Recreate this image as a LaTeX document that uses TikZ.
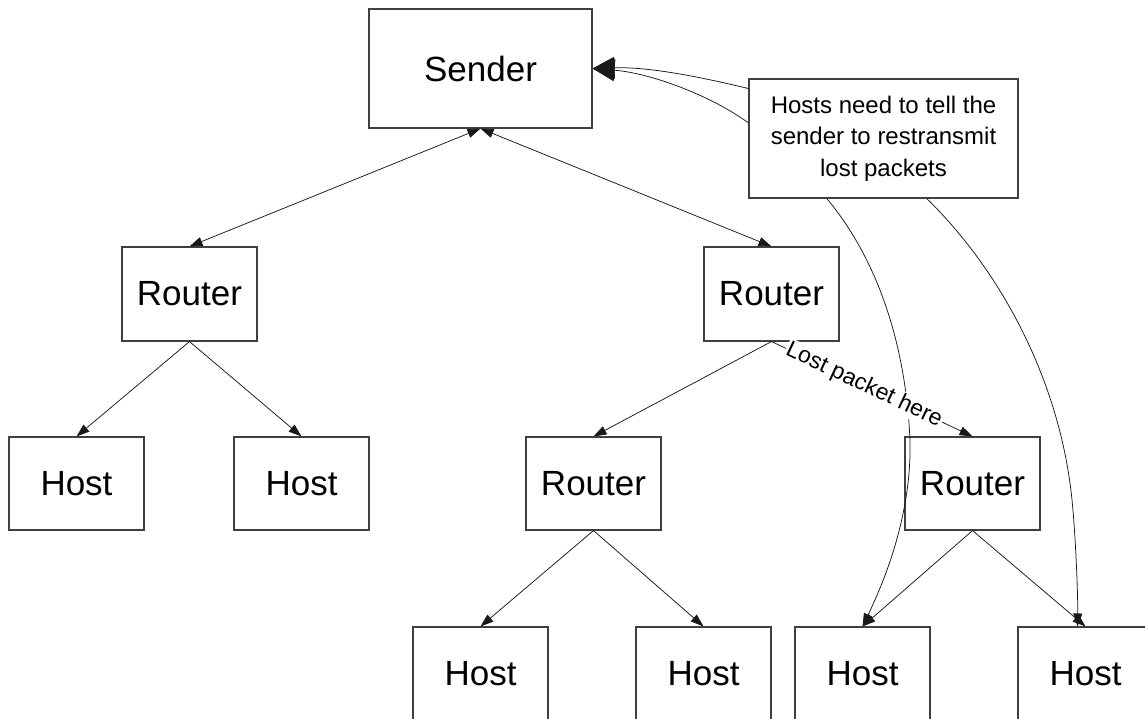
\documentclass[tikz,border=0pt]{standalone}
\usepackage{fontspec}
\setmainfont{Liberation Sans}
\usetikzlibrary{arrows.meta,calc}
\begin{document}
\begin{tikzpicture}[x=1pt,y=-1pt,
  box/.style={draw=black!75, line width=1.1pt, inner sep=0pt, minimum width=135pt, minimum height=93pt, font=\fontsize{35}{42}\selectfont},
  link/.style={line width=0.75pt, draw=black!90, -{Triangle[length=13pt,width=9pt]}},
  both/.style={line width=0.75pt, draw=black!90, {Triangle[length=13pt,width=9pt]}-{Triangle[length=13pt,width=9pt]}},
  big/.style={line width=0.75pt, draw=black!90, -{Triangle[length=22pt,width=22pt]}},
  lbl/.style={fill=white, inner sep=1pt, font=\fontsize{23}{27}\selectfont}]
\useasboundingbox (0,0) rectangle (1145,719);
\clip (0,0) rectangle (1145,719);
% boxes
\node[box, minimum width=223pt, minimum height=119pt] (sender) at (480.5,68.5) {Sender};
\node[box, minimum height=94pt] (routerL) at (189.5,294) {Router};
\node[box, minimum height=94pt] (routerM) at (771.5,294) {Router};
\node[box] (host1) at (76.5,483.5) {Host};
\node[box] (host2) at (301.5,483.5) {Host};
\node[box] (routerLo) at (593.5,483.5) {Router};
\node[box] (routerR) at (972.5,483.5) {Router};
\node[box] (host3) at (480.5,673.5) {Host};
\node[box] (host4) at (703.5,673.5) {Host};
\node[box] (host5) at (862.5,673.5) {Host};
\node[box] (host6) at (1085.5,673.5) {Host};
\node[box, minimum width=269pt, minimum height=119pt, align=center, font=\fontsize{24}{31.3}\selectfont] (note) at (883.5,138.5) {Hosts need to tell the\\sender to restransmit\\lost packets};
% tree connectors
\draw[both] (sender.south) -- (routerL.north);
\draw[both] (sender.south) -- (routerM.north);
\draw[link] (routerL.south) -- (host1.north);
\draw[link] (routerL.south) -- (host2.north);
\draw[link] (routerM.south) -- (routerLo.north);
\draw[link] (routerM.south) -- (routerR.north);
\draw[link] (routerLo.south) -- (host3.north);
\draw[link] (routerLo.south) -- (host4.north);
\draw[link] (routerR.south) -- (host5.north);
\draw[link] (routerR.south) -- (host6.north);
% callout connectors
\coordinate (n1) at ($(note.north west)!0.084!(note.south west)$);
\coordinate (n2) at ($(note.north west)!0.37!(note.south west)$);
\coordinate (n3) at ($(note.south west)!0.29!(note.south east)$);
\coordinate (n4) at ($(note.south west)!0.66!(note.south east)$);
\draw[big] (n1) .. controls (680,72) and (640,67) .. (sender.east);
\draw[big] (n2) .. controls (710,95) and (650,73) .. (sender.east);
\draw[link] (n3) .. controls (870,250) and (905,330) .. (910,440) .. controls (912,520) and (880,590) .. (host5.north);
\draw[link] (n4) .. controls (1000,270) and (1060,380) .. (1072,500) .. controls (1076,540) and (1078,600) .. ([xshift=-8pt]host6.north);
% label on the lost-packet link
\path (routerM.south) -- (routerR.north) node[lbl, pos=0.46, sloped] (lost) {Lost packet here};
\end{tikzpicture}
\end{document}
